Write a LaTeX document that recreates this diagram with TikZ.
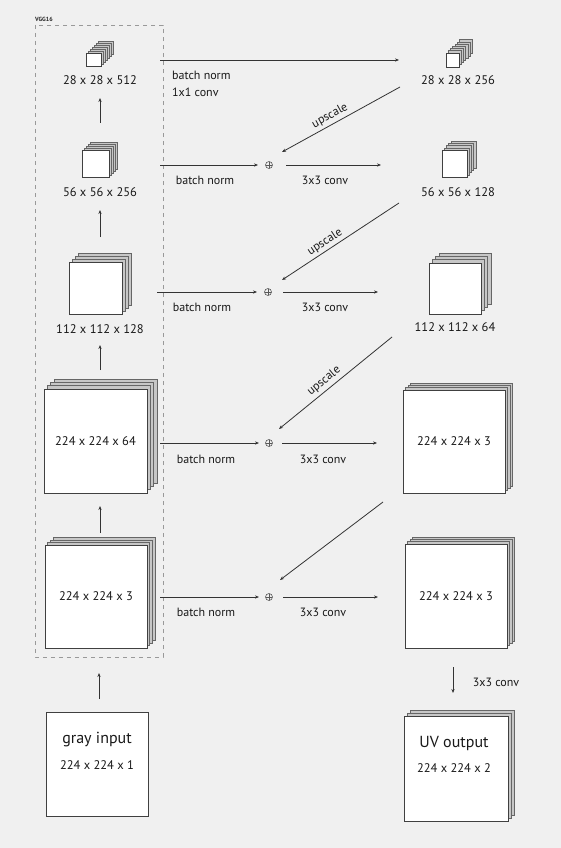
\documentclass[tikz,border=0pt]{standalone}
\usepackage{fontspec}
\setmainfont{PT Sans}
\usetikzlibrary{arrows.meta,calc}
\definecolor{bg}{HTML}{F0F0F0}
\pgfdeclarelayer{bgfill}
\pgfdeclarelayer{background}
\pgfsetlayers{bgfill,background,main}
\newcommand\backstack[3]{\foreach \k in {#2,...,1}{\draw[layer] ($(#1.south west)+(\k*#3,-\k*#3)$) rectangle ($(#1.north east)+(\k*#3,-\k*#3)$);}}
\begin{document}
\begin{tikzpicture}[x=1pt,y=-1pt,
  front/.style={draw=black!75,line width=0.9pt,fill=white,inner sep=0pt,outer sep=0pt},
  layer/.style={draw=black!60,line width=0.6pt,fill=black!22},
  dim/.style={font=\fontsize{12.5}{14}\selectfont,text=black!90,inner sep=0pt},
  big/.style={font=\fontsize{16}{18}\selectfont,text=black!90,inner sep=0pt},
  op/.style={font=\fontsize{12}{13}\selectfont,text=black!90,inner sep=0pt},
  arr/.style={draw=black!80,line width=0.8pt,-{Stealth[length=4pt,width=3.2pt]}},
  plusnode/.style={circle,draw=black!65,line width=0.6pt,minimum size=7pt,inner sep=0pt,
    path picture={\draw[black!65,line width=0.6pt] (path picture bounding box.north) -- (path picture bounding box.south) (path picture bounding box.west) -- (path picture bounding box.east);}}]
\begin{pgfonlayer}{bgfill}
\fill[bg] (0,0) rectangle (561,848);
\end{pgfonlayer}
\useasboundingbox (0,0) rectangle (561,848);

% VGG box
\draw[black!40,line width=0.7pt,dash pattern=on 4pt off 4pt] (35,25) rectangle (163,657);
\node[anchor=west,inner sep=0pt,font=\fontsize{6}{7}\selectfont\bfseries,text=black!85] (vgg) at (35,19) {VGG16};

% left column
\node[front,minimum width=15pt,minimum height=13pt] (s1) at (93.5,59.5) {};
\node[dim] (s1l) at (100,80) {28 x 28 x 512};
\node[front,minimum width=27pt,minimum height=27pt] (s2) at (95.5,163.5) {};
\node[dim] (s2l) at (100,192) {56 x 56 x 256};
\node[front,minimum width=53pt,minimum height=52pt] (s3) at (95.5,288) {};
\node[dim] (s3l) at (100,329) {112 x 112 x 128};
\node[front,minimum width=103pt,minimum height=104pt,dim] (s4) at (95.5,441) {224 x 224 x 64};
\node[front,minimum width=102pt,minimum height=103pt,dim] (s5) at (96,596.5) {224 x 224 x 3};
\node[front,minimum width=102pt,minimum height=104pt] (gin) at (97,764) {};
\node[big] (ginl1) at (97,740) {gray input};
\node[dim] (ginl2) at (97,765) {224 x 224 x 1};

% right column
\node[front,minimum width=13pt,minimum height=14pt] (r1) at (452.5,60) {};
\node[dim] (r1l) at (458,80) {28 x 28 x 256};
\node[front,minimum width=25pt,minimum height=27pt] (r2) at (454.5,163.5) {};
\node[dim] (r2l) at (458,192) {56 x 56 x 128};
\node[front,minimum width=52pt,minimum height=51pt] (r3) at (455,288.5) {};
\node[dim] (r3l) at (455,327) {112 x 112 x 64};
\node[front,minimum width=102pt,minimum height=103pt,dim] (r4) at (454,441.5) {224 x 224 x 3};
\node[front,minimum width=102pt,minimum height=104pt,dim] (r5) at (456,596) {224 x 224 x 3};
\node[front,minimum width=104pt,minimum height=105pt] (uv) at (456,768.5) {};
\node[big] (uvl1) at (454,743) {UV output};
\node[dim] (uvl2) at (454,768) {224 x 224 x 2};

\begin{pgfonlayer}{background}
\backstack{s1}{6}{2}
\backstack{s2}{4}{2}
\backstack{s3}{3}{3}
\backstack{s4}{3}{3.3}
\backstack{s5}{3}{2.6}
\backstack{r1}{6}{2.2}
\backstack{r2}{4}{2.2}
\backstack{r3}{3}{3.3}
\backstack{r4}{3}{2.4}
\backstack{r5}{3}{2.4}
\backstack{uv}{2}{3}
\end{pgfonlayer}

% vertical arrows left
\coordinate (v1a) at (100,123); \coordinate (v1b) at (100,98);
\coordinate (v2a) at (100,237); \coordinate (v2b) at (100,210);
\coordinate (v3a) at (100,370); \coordinate (v3b) at (100,345);
\coordinate (v4a) at (100,533); \coordinate (v4b) at (100,506);
\coordinate (v5a) at (99,699);  \coordinate (v5b) at (99,673);
\draw[arr] (v1a) -- (v1b);
\draw[arr] (v2a) -- (v2b);
\draw[arr] (v3a) -- (v3b);
\draw[arr] (v4a) -- (v4b);
\draw[arr] (v5a) -- (v5b);

% plus nodes
\node[plusnode] (p2) at (269,165) {};
\node[plusnode] (p3) at (268,292) {};
\node[plusnode] (p4) at (269,443) {};
\node[plusnode] (p5) at (269,597) {};

% top row
\coordinate (t0) at (160,60); \coordinate (t1) at (399,60);
\draw[arr] (t0) -- (t1);
\node[op,anchor=west] (bn1) at (172,75) {batch norm};
\node[op,anchor=west] (cv1) at (172,92) {1x1 conv};

% rows
\coordinate (h2) at (160,165); \coordinate (e2) at (381,165);
\draw[arr] (h2) -- ([xshift=-11pt]p2.center);
\draw[arr] ([xshift=17pt]p2.center) -- (e2);
\node[op] (bn2) at (205,180) {batch norm};
\node[op] (cv2) at (325,180) {3x3 conv};

\coordinate (h3) at (157,292); \coordinate (e3) at (378,292);
\draw[arr] (h3) -- ([xshift=-11pt]p3.center);
\draw[arr] ([xshift=15pt]p3.center) -- (e3);
\node[op] (bn3) at (202,307) {batch norm};
\node[op] (cv3) at (325,307) {3x3 conv};

\coordinate (h4) at (160,443); \coordinate (e4) at (377,443);
\draw[arr] (h4) -- ([xshift=-10pt]p4.center);
\draw[arr] ([xshift=13pt]p4.center) -- (e4);
\node[op] (bn4) at (206,459) {batch norm};
\node[op] (cv4) at (323,459) {3x3 conv};

\coordinate (h5) at (160,597); \coordinate (e5) at (378,597);
\draw[arr] (h5) -- ([xshift=-10pt]p5.center);
\draw[arr] ([xshift=14pt]p5.center) -- (e5);
\node[op] (bn5) at (206,612) {batch norm};
\node[op] (cv5) at (323,612) {3x3 conv};

% upscale arrows
\coordinate (u1) at (400,87);
\coordinate (u2) at (399,203);
\coordinate (u3) at (392,337);
\coordinate (u4) at (383,502);
\draw[arr] (u1) -- ($(p2)+(13,-13)$);
\draw[arr] (u2) -- ($(p3)+(14,-12)$);
\draw[arr] (u3) -- ($(p4)+(10,-14)$);
\draw[arr] (u4) -- ($(p5)+(11,-17)$);
\node[op,rotate=28.8] (ul1) at (330,116) {upscale};
\node[op,rotate=33.3] (ul2) at (325,242) {upscale};
\node[op,rotate=39.2] (ul3) at (324,381) {upscale};

% final conv
\coordinate (d0) at (453,667); \coordinate (d1) at (453,693);
\draw[arr] (d0) -- (d1);
\node[op] (cvf) at (496,682) {3x3 conv};
\end{tikzpicture}
\end{document}
